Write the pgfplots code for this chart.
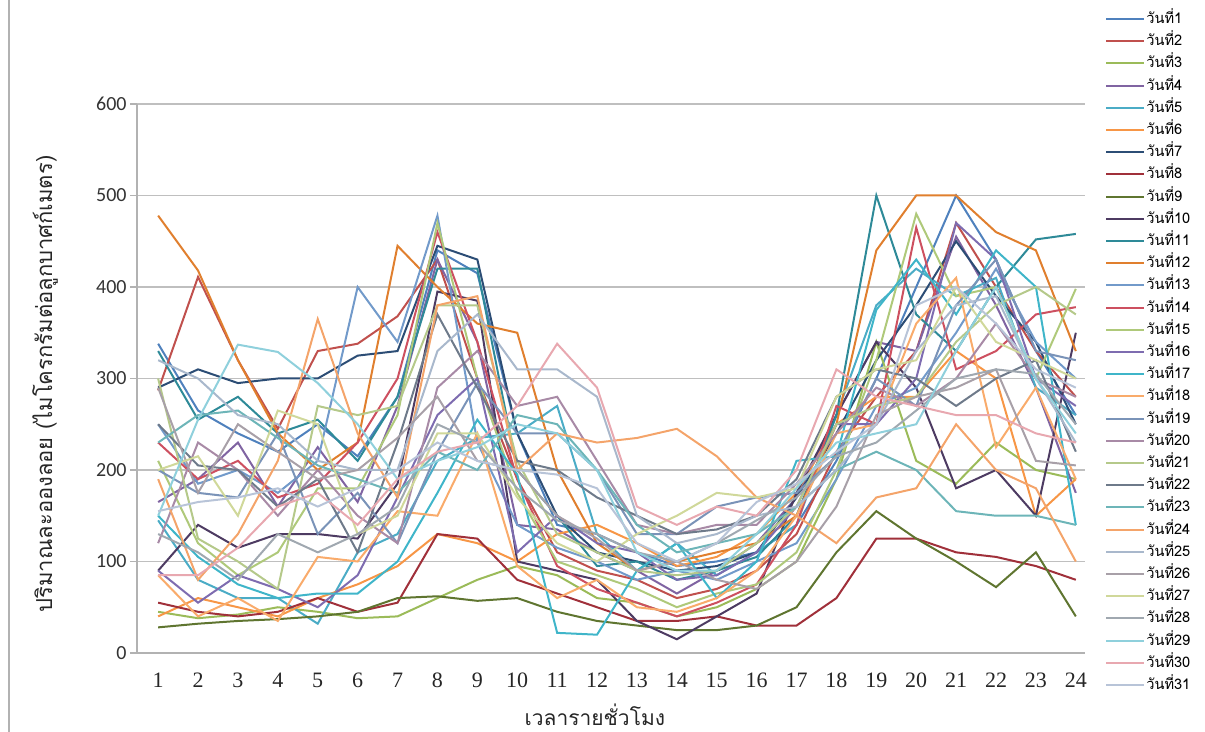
\documentclass[border=0pt]{standalone}
\usepackage{fontspec}
\setmainfont{Carlito}
\newfontfamily\thaifont[Script=Thai]{Loma}
\newfontfamily\serifnum{Liberation Serif}
\usepackage{pgfplots}
\usepackage{pgfplotstable}
\pgfplotsset{compat=1.18}
\definecolor{c1}{HTML}{4F81BD}\definecolor{c2}{HTML}{C0504D}\definecolor{c3}{HTML}{9BBB59}
\definecolor{c4}{HTML}{8064A2}\definecolor{c5}{HTML}{4BACC6}\definecolor{c6}{HTML}{F79646}
\definecolor{c7}{HTML}{2C4D75}\definecolor{c8}{HTML}{A0303A}\definecolor{c9}{HTML}{5F7530}
\definecolor{c10}{HTML}{4D3B62}\definecolor{c11}{HTML}{2E8A98}\definecolor{c12}{HTML}{E07F2E}
\definecolor{c13}{HTML}{729ACA}\definecolor{c14}{HTML}{CD5060}\definecolor{c15}{HTML}{AFC97A}
\definecolor{c16}{HTML}{7E6CB0}\definecolor{c17}{HTML}{3FB5C9}\definecolor{c18}{HTML}{F9AB6B}
\definecolor{c19}{HTML}{7A93B8}\definecolor{c20}{HTML}{A88AA6}\definecolor{c21}{HTML}{B5C98A}
\definecolor{c22}{HTML}{6E7A8A}\definecolor{c23}{HTML}{6DB5B8}\definecolor{c24}{HTML}{F4A46A}
\definecolor{c25}{HTML}{A9B8CC}\definecolor{c26}{HTML}{A8A0A8}\definecolor{c27}{HTML}{D0D89A}
\definecolor{c28}{HTML}{A0A8B0}\definecolor{c29}{HTML}{8FD0DC}\definecolor{c30}{HTML}{E8A8B0}
\definecolor{c31}{HTML}{B8C4D8}
\pgfplotstableread[header=true]{
day 1 2 3 4 5 6 7 8 9 10 11 12 13 14 15 16 17 18 19 20 21 22 23 24
d1 338 265 240 220 250 215 280 440 415 240 140 130 110 95 100 110 140 210 300 400 500 430 330 260
d2 287 411 320 245 330 338 368 430 300 190 110 90 80 60 70 90 130 220 280 330 470 400 330 280
d3 45 38 42 50 45 38 40 60 80 95 85 60 55 40 50 70 100 190 340 210 185 230 200 190
d4 165 190 230 160 225 165 270 430 340 140 135 110 90 65 90 120 170 260 340 330 455 380 290 175
d5 145 80 60 60 32 110 130 210 235 240 270 130 90 120 85 110 140 260 380 420 390 410 290 260
d6 40 60 50 40 60 75 95 130 120 100 130 140 120 95 105 130 175 250 280 280 330 300 150 190
d7 290 310 295 300 300 325 330 445 430 240 150 110 100 90 95 110 170 240 320 380 450 390 340 250
d8 55 45 40 45 60 45 55 130 125 80 65 50 35 35 40 30 30 60 125 125 110 105 95 80
d9 28 32 35 37 40 45 60 62 57 60 45 35 30 25 25 30 50 110 155 125 100 72 110 40
d10 90 140 115 130 130 125 185 395 385 100 90 80 35 15 40 65 175 260 340 290 180 200 150 350
d11 330 255 280 240 255 210 280 420 420 200 150 95 100 80 90 105 150 260 500 370 330 400 452 458
d12 478 418 320 240 200 230 445 400 360 350 200 120 90 100 110 120 150 250 440 500 500 460 440 330
d13 250 185 200 175 210 400 340 478 230 140 115 100 80 90 80 100 120 190 270 290 350 420 340 300
d14 230 190 210 170 185 230 300 460 340 190 95 70 55 40 55 75 140 270 250 465 310 330 370 378
d15 210 120 85 110 180 180 260 470 300 175 100 85 70 50 65 75 110 200 320 480 390 400 300 398
d16 90 55 85 70 50 85 170 260 300 110 150 120 110 80 85 110 160 250 250 300 470 430 300 270
d17 150 105 75 60 65 65 100 175 255 195 22 20 90 120 60 100 210 215 375 430 370 440 400 140
d18 85 40 60 35 105 100 155 150 240 95 60 80 50 45 60 90 150 240 250 360 410 225 290 190
d19 200 175 170 240 130 175 120 220 295 240 240 200 130 130 160 170 175 215 300 270 380 430 330 320
d20 120 230 200 150 200 150 120 290 330 270 280 210 140 130 140 140 185 240 290 270 300 360 300 280
d21 300 125 100 70 270 260 270 380 380 210 130 110 90 85 90 120 160 250 270 280 340 380 400 370
d22 250 205 200 160 190 110 230 370 290 210 200 170 150 130 135 150 190 280 310 300 270 300 320 220
d23 230 260 265 235 205 190 175 220 200 260 250 200 140 110 120 130 160 200 220 200 155 150 150 140
d24 190 80 130 210 365 240 170 380 390 200 240 230 235 245 215 170 150 120 170 180 250 200 180 100
d25 320 300 260 250 210 200 200 330 370 310 310 280 150 120 130 150 160 200 250 330 380 390 300 230
d26 290 175 250 220 190 200 235 280 210 200 150 125 90 100 80 70 100 160 260 280 290 310 210 205
d27 200 215 150 265 250 130 150 240 240 170 120 100 130 150 175 170 180 280 310 320 400 340 320 300
d28 130 110 80 130 110 130 160 250 230 180 145 130 110 100 120 145 170 215 230 265 300 310 305 250
d29 150 255 337 329 295 250 190 210 225 250 240 200 110 90 90 130 180 230 240 250 330 400 300 240
d30 85 85 115 160 175 140 190 220 230 270 338 290 160 140 160 150 200 310 280 270 260 260 240 230
d31 155 165 170 180 160 180 200 230 210 200 195 180 120 100 120 165 185 220 250 380 400 360 310 290
}\raw
\pgfplotstabletranspose[colnames from=day, input colnames to=h]\data\raw
\begin{document}
\begin{tikzpicture}
\useasboundingbox (0,0) rectangle (602.5pt,366pt);
\draw[black!30, line width=0.8pt] (4.5pt,0pt) -- (4.5pt,366pt);
\begin{axis}[
  at={(68.5pt,39.5pt)}, anchor=south west,
  scale only axis, width=474pt, height=274.5pt,
  xmin=0.47, xmax=24.23, ymin=0, ymax=600,
  xtick={1,...,24}, ytick={0,100,...,600},
  axis x line*=bottom, axis y line*=left,
  axis line style={-, color=black!30, line width=0.8pt},
  ymajorgrids, grid style={black!25, line width=0.8pt},
  tick align=outside, major tick length=3.5pt,
  x tick style={draw=none}, y tick style={black!30, line width=0.8pt},
  /pgf/number format/assume math mode=true,
  yticklabel style={font=\fontsize{10}{12}\selectfont, color=black!80, inner sep=1.5pt},
  xticklabel style={font=\serifnum\fontsize{11}{13}\selectfont, color=black!85, yshift=-3pt},
  xlabel={\thaifont เวลารายชั่วโมง},
  xlabel style={at={(axis description cs:0.483,-0.112)}, anchor=center, font=\fontsize{10.5}{12}\selectfont, color=black!85},
  ylabel={\thaifont ปริมาณละอองลอย (ไมโครกรัมต่อลูกบาศก์เมตร)},
  ylabel style={at={(axis description cs:-0.097,0.49)}, anchor=center, font=\fontsize{11}{13}\selectfont, color=black!85},
  legend cell align=left,
  legend image code/.code={\draw[#1, line width=0.9pt] (0pt,0pt) -- (16.5pt,0pt); \path (0pt,0pt) -- (19pt,0pt);},
  legend style={at={(1.021,1.171)}, anchor=north west, draw=none, fill=none, inner sep=0pt,
    font=\thaifont\fontsize{7.3}{8}\selectfont, row sep=2.6pt,
    nodes={inner sep=0.5pt, text height=6pt, text depth=1.5pt}},
]
\pgfplotsinvokeforeach{1,...,31}{
  \addplot[color=c#1, line width=1pt] table[x=h, y=d#1] {\data};
  \addlegendentry{วันที่#1}
}
\end{axis}
\end{tikzpicture}
\end{document}
